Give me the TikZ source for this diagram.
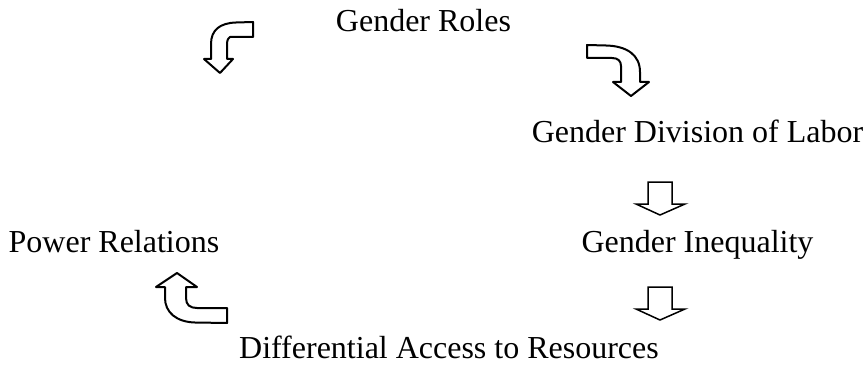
\documentclass[tikz,border=0pt]{standalone}
\usepackage{fontspec}
\setmainfont{Liberation Serif}

\begin{document}
\begin{tikzpicture}[x=1pt, y=-1pt,
    concept/.style={font=\fontsize{32}{38}\selectfont, inner sep=0pt, anchor=base},
    bentarrow/.style={draw=black, line width=2pt, line join=round, fill=white},
    downarrow/.style={draw=black, line width=1.5pt, line join=miter, fill=white}]
    \useasboundingbox (0,0) rectangle (868,369);

    % Concepts
    \node[concept] (roles) at (423.5,32) {Gender Roles};
    \node[concept] (division) at (697.5,142) {Gender Division of Labor};
    \node[concept] (inequality) at (697.5,252) {Gender Inequality};
    \node[concept] (power) at (114,252) {Power Relations};
    \node[concept] (access) at (449,358) {Differential Access to Resources};

    % Bent arrows
    \draw[bentarrow] (587,45) -- (606,45.5) .. controls (627,46) and (640,55) .. (640,72)
        -- (640,82) -- (649,82) -- (631,96) -- (613,82) -- (621,82) -- (621,66)
        .. controls (621,61) and (618,58) .. (612,58) -- (587,58) -- cycle;
    \draw[bentarrow] (177,273) -- (197,287) -- (186,287) -- (186,298)
        .. controls (186,305) and (190,308) .. (197,308) -- (227,308) -- (227,323)
        -- (195,322.5) .. controls (176,322) and (165,312) .. (165,298)
        -- (165,287) -- (156,287) -- cycle;
    \draw[bentarrow] (253,22) -- (253,37) -- (230,37) .. controls (227,39) and (227,42) .. (227,46)
        -- (227,59) -- (233,59) -- (220,73) -- (204,59) -- (211,59) -- (211,44)
        .. controls (211,30) and (220,23) .. (236,22.5) -- cycle;

    % Straight arrows
    \draw[downarrow] (648,182) -- (672,182) -- (672,204) -- (685,204) -- (660,215)
        -- (636,204) -- (648,204) -- cycle;
    \draw[downarrow] (648,287) -- (672,287) -- (672,309) -- (685,309) -- (660,320)
        -- (636,309) -- (648,309) -- cycle;
\end{tikzpicture}
\end{document}
